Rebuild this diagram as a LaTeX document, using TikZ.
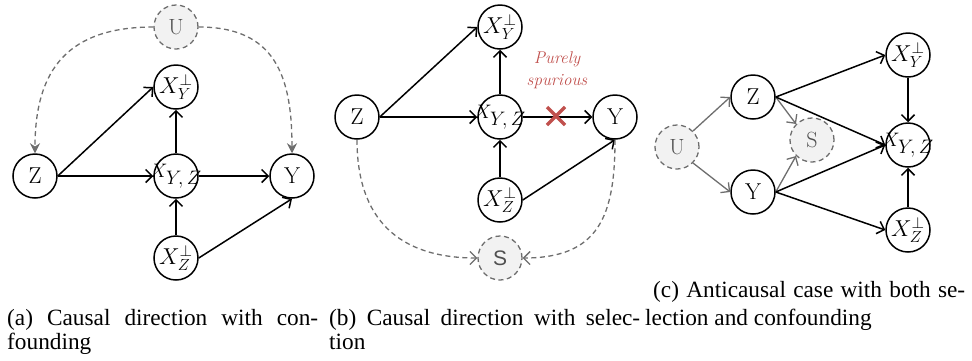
\RequirePackage{fix-cm}
\documentclass[tikz,border=0pt]{standalone}
\usepackage{fontspec}
\newfontfamily\capfont{Liberation Serif}
\newfontfamily\sansS{Liberation Sans}
\usetikzlibrary{arrows.meta}
\definecolor{dgray}{HTML}{6E6E6E}
\definecolor{lgray}{HTML}{F2F2F2}
\definecolor{tgray}{HTML}{505050}
\definecolor{spur}{HTML}{C0504D}
\tikzset{
  var/.style={circle,draw,line width=1.5pt,minimum size=44pt,inner sep=0pt,font=\fontsize{23}{23}\selectfont},
  bigm/.style={font=\fontsize{23}{23}\selectfont},
  midm/.style={font=\fontsize{19.5}{19.5}\selectfont},
  hid/.style={circle,draw=dgray,dash pattern=on 5pt off 3.5pt,fill=lgray,line width=1.3pt,minimum size=44pt,inner sep=0pt,text=tgray,font=\fontsize{22}{22}\selectfont},
  edge/.style={line width=1.5pt,-{Straight Barb[length=6.5pt,width=13pt]}},
  gedge/.style={dgray,line width=1.3pt,-{Straight Barb[length=6.5pt,width=13pt]}},
  dedge/.style={dgray,line width=1.3pt,dash pattern=on 5pt off 3.5pt,-{Stealth[length=10pt,width=10pt]}},
  bedge/.style={dgray,line width=1.3pt,dash pattern=on 5pt off 3.5pt,-{Straight Barb[length=6.5pt,width=13pt]}},
  captext/.style={inner sep=0pt,font=\capfont\fontsize{23.3}{24}\selectfont},
  crossline/.style={spur,line width=3.4pt},
}
\begin{document}
\begin{tikzpicture}[x=1pt,y=-1pt]
\useasboundingbox (0,0) rectangle (972,360);
% ---------- (a)
\node[hid] (Ua) at (176,27) {U};
\node[var,bigm] (XYa) at (176,87) {\makebox[0pt]{$X_Y^{\perp}$}};
\node[var] (Za) at (35,176) {Z};
\node[var,midm] (XYZa) at (176,176) {\makebox[0pt]{$X_{\textstyle Y,Z}$}};
\node[var] (Ya) at (292,176) {Y};
\node[var,bigm] (XZa) at (176,258) {\makebox[0pt]{$X_Z^{\perp}$}};
\draw[edge] (Za.east) -- (XYa.west);
\draw[edge] (Za) -- (XYZa);
\draw[edge] (XYZa) -- (XYa);
\draw[edge] (XYZa) -- (Ya);
\draw[edge] (XZa) -- (XYZa);
\draw[edge] (XZa.east) -- (Ya.south);
\draw[dedge] (Ua.west) to[out=180,in=90,looseness=1.25] (Za.north);
\draw[dedge] (Ua.east) to[out=0,in=90,looseness=1.25] (Ya.north);
% ---------- (b)
\node[var,bigm] (XYb) at (500,27) {\makebox[0pt]{$X_Y^{\perp}$}};
\node[var] (Zb) at (357,117) {Z};
\node[var,midm] (XYZb) at (500,117) {\makebox[0pt]{$X_{\textstyle Y,Z}$}};
\node[var] (Yb) at (615,117) {Y};
\node[var,bigm] (XZb) at (500,200) {\makebox[0pt]{$X_Z^{\perp}$}};
\node[hid,font=\sansS\fontsize{21}{21}\selectfont] (Sb) at (500,258) {S};
\draw[edge] (Zb.east) -- (XYb.west);
\draw[edge] (Zb) -- (XYZb);
\draw[edge] (XYZb) -- (XYb);
\draw[edge] (XYZb) -- (Yb);
\draw[edge] (XZb) -- (XYZb);
\draw[edge] (XZb.east) -- (Yb.south);
\draw[bedge] (Zb.south) to[out=270,in=180,looseness=1.2] (Sb.west);
\draw[bedge] (Yb.south) to[out=270,in=0,looseness=1.3] (Sb.east);
\coordinate (cx) at (556,116);
\draw[crossline] ([shift={(-9,-9)}]cx) -- ([shift={(9,9)}]cx);
\draw[crossline] ([shift={(-9,9)}]cx) -- ([shift={(9,-9)}]cx);
\node[text=spur,align=center,inner sep=0pt,font=\fontsize{17}{22}\selectfont\itshape] (ps) at (557,70) {Purely\\spurious};
% ---------- (c)
\node[hid] (Uc) at (677,147) {U};
\node[var] (Zc) at (753,97) {Z};
\node[hid] (Sc) at (812,140) {S};
\node[var] (Yc) at (753,192) {Y};
\node[var,bigm] (XYc) at (908,55) {\makebox[0pt]{$X_Y^{\perp}$}};
\node[var,midm] (XYZc) at (908,145) {\makebox[0pt]{$X_{\textstyle Y,Z}$}};
\node[var,bigm] (XZc) at (908,230) {\makebox[0pt]{$X_Z^{\perp}$}};
\draw[gedge] (Uc.north east) -- (Zc.west);
\draw[gedge] (Uc.south east) -- (Yc.west);
\draw[gedge] (Zc.east) -- (Sc.north west);
\draw[gedge] (Yc.east) -- (Sc.south west);
\draw[edge] (Zc.east) -- (XYc.west);
\draw[edge] (Zc.east) -- (XYZc.west);
\draw[edge] (Yc.east) -- (XYZc.west);
\draw[edge] (Yc.east) -- (XZc.west);
\draw[edge] (XYc) -- (XYZc);
\draw[edge] (XZc) -- (XYZc);
% ---------- captions
\node[captext,anchor=base west] (capa1) at (7,325) {\makebox[311pt][s]{(a) Causal direction with con-}};
\node[captext,anchor=base west] (capa2) at (7,349) {founding};
\node[captext,anchor=base west] (capb1) at (329,325) {\makebox[311pt][s]{(b) Causal direction with selec-}};
\node[captext,anchor=base west] (capb2) at (329,349) {tion};
\node[captext,anchor=base west] (capc1) at (653,297) {\makebox[312pt][s]{(c) Anticausal case with both se-}};
\node[captext,anchor=base west] (capc2) at (645,325) {lection and confounding};
\end{tikzpicture}
\end{document}
